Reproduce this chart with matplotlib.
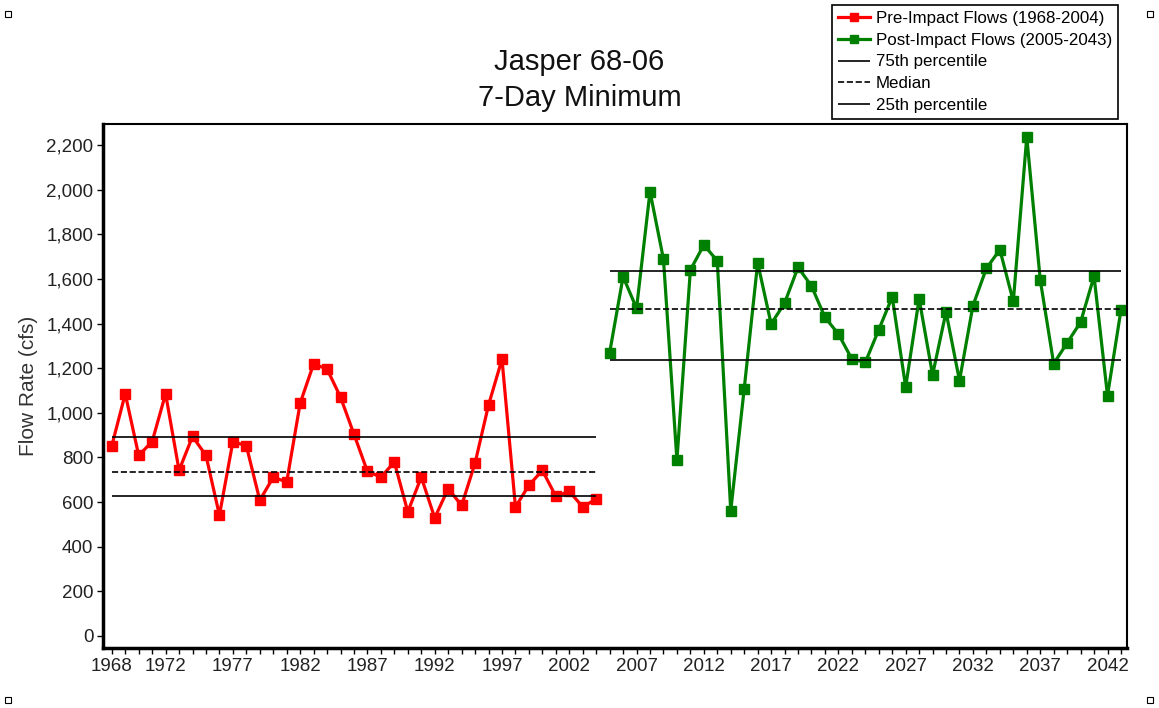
import matplotlib
matplotlib.use("Agg")
import matplotlib.pyplot as plt
from matplotlib.patches import Rectangle
from matplotlib.ticker import FuncFormatter, MultipleLocator

plt.rcParams['font.family'] = ['Liberation Sans', 'DejaVu Sans']

pre_years = list(range(1968, 2005))
pre_flow = [852, 1085, 809, 871, 1085, 742, 894, 809, 541, 871,
            852, 608, 711, 690, 1043, 1219, 1196, 1070, 904, 737,
            712, 779, 556, 712, 529, 660, 585, 775, 1035, 1240,
            578, 675, 742, 626, 648, 578, 614]

post_years = list(range(2005, 2044))
post_flow = [1269, 1610, 1468, 1991, 1688, 788, 1640, 1752, 1681, 561,
             1107, 1672, 1398, 1491, 1652, 1568, 1428, 1353, 1241, 1226,
             1372, 1519, 1116, 1511, 1170, 1452, 1144, 1480, 1647, 1731,
             1499, 2236, 1596, 1220, 1313, 1406, 1612, 1077, 1460]

# percentile lines (75th, median, 25th)
pre_pct = [890, 735, 627]
post_pct = [1635, 1463, 1237]

xtick_labels = [1968, 1972, 1977, 1982, 1987, 1992, 1997, 2002, 2007,
                2012, 2017, 2022, 2027, 2032, 2037, 2042]

fig = plt.figure(figsize=(11.59, 7.08), dpi=100)
ax = fig.add_axes([0.0889, 0.0847, 0.8835, 0.7402])

ax.plot(pre_years, pre_flow, color='#ff0000', lw=2.3, marker='s', ms=7,
        label='Pre-Impact Flows (1968-2004)')
ax.plot(post_years, post_flow, color='#008000', lw=2.3, marker='s', ms=7,
        label='Post-Impact Flows (2005-2043)')

styles = ['-', '--', '-']
names = ['75th percentile', 'Median', '25th percentile']
for val, ls, name in zip(pre_pct, styles, names):
    ax.hlines(val, pre_years[0], pre_years[-1], colors='black', linestyles=ls, lw=1.2,
              label=name)
for val, ls in zip(post_pct, styles):
    ax.hlines(val, post_years[0], post_years[-1], colors='black', linestyles=ls, lw=1.2)

ax.set_xlim(1967.35, 2043.45)
ax.set_ylim(-54, 2294)
ax.yaxis.set_major_locator(MultipleLocator(200))
ax.yaxis.set_major_formatter(FuncFormatter(lambda v, p: f"{int(v):,}"))
ax.set_xticks(xtick_labels)
ax.xaxis.set_minor_locator(MultipleLocator(1))
ax.tick_params(axis='both', which='major', labelsize=13.5, length=4, width=1,
               colors='black', labelcolor='#222222', pad=3)
ax.tick_params(axis='x', which='minor', length=4, width=1)
ax.set_ylabel('Flow Rate (cfs)', fontsize=15, color='#333333', labelpad=6)

for side in ['left', 'bottom']:
    ax.spines[side].set_linewidth(2.5)
for side in ['top', 'right']:
    ax.spines[side].set_linewidth(1.5)

fig.text(0.5, 0.901, 'Jasper 68-06', ha='center', va='baseline', fontsize=21, color='#111111')
fig.text(0.5, 0.850, '7-Day Minimum', ha='center', va='baseline', fontsize=21, color='#111111')

handles, labels = ax.get_legend_handles_labels()
leg = fig.legend(handles, labels, loc='upper right', bbox_to_anchor=(0.9646, 0.993),
                 borderaxespad=0, fontsize=12.2, frameon=True, fancybox=False,
                 framealpha=1, edgecolor='black', borderpad=0.35, labelspacing=0.4,
                 handlelength=1.9, handletextpad=0.35, markerscale=0.75)
leg.get_frame().set_linewidth(1.2)

# selection handles in the corners
for fx, fy in [(5, 5), (1147, 5), (5, 691), (1147, 691)]:
    fig.add_artist(Rectangle((fx / 1159, fy / 708), 6 / 1159, 6 / 708,
                             transform=fig.transFigure, fill=False, ec='black', lw=0.8))

fig.savefig('out.png', dpi=100, facecolor='white')
